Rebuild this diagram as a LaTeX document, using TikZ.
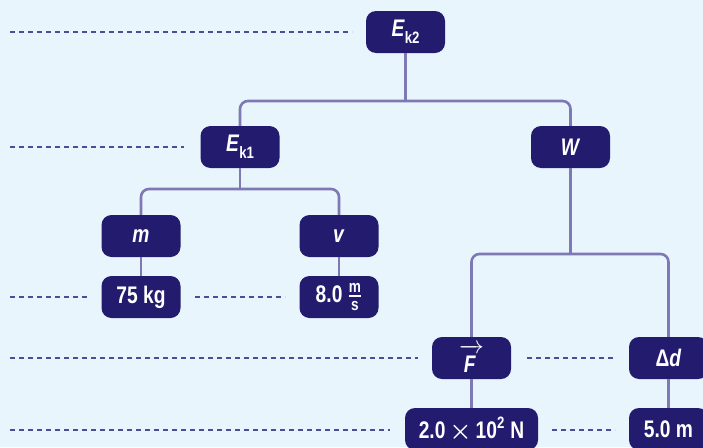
\documentclass[tikz,border=0pt]{standalone}
\usepackage{fontspec}
\usepackage{amsmath}
\setmainfont{Liberation Sans}[FakeStretch=0.8]
\usetikzlibrary{calc}
\definecolor{bg}{HTML}{E8F5FC}
\definecolor{boxc}{HTML}{231C6E}
\definecolor{connc}{HTML}{7E78B4}
\definecolor{dashc}{HTML}{4A4E98}
\newcommand{\fr}[1]{\text{\fontsize{17}{17}\selectfont #1}}
\begin{document}
\begin{tikzpicture}[x=1pt,y=-1pt,
 box/.style={rounded corners=10pt, fill=boxc, text=white, minimum width=79pt, minimum height=42pt, inner sep=0pt, font=\fontsize{24}{26}\selectfont\bfseries},
 link/.style={draw=connc, line width=2.6pt, rounded corners=8pt},
 guide/.style={draw=dashc, line width=1.4pt, dash pattern=on 5pt off 4pt}]
\fill[bg] (0,0) rectangle (703,447);
\useasboundingbox (0,0) rectangle (703,447);

\node[box] (ek2) at (405.5,32) {\textit{E}\raisebox{-0.28em}{\fontsize{16.5}{16}\selectfont k2}};
\node[box] (ek1) at (240,147) {\textit{E}\raisebox{-0.28em}{\fontsize{16.5}{16}\selectfont k1}};
\node[box] (w) at (570.5,147) {\textit{W}};
\node[box] (m) at (141,236) {\textit{m}};
\node[box] (v) at (339,236) {\textit{v}};
\node[box] (kg) at (141,297) {75 kg};
\node[box] (ms) at (339,297) {8.0 \ensuremath{\genfrac{}{}{1.4pt}{}{\fr{m}}{\fr{s}}}};
\node[box] (f) at (471.5,358) {\raisebox{-0.12em}{\ensuremath{\overrightarrow{\raisebox{0pt}[1.15\height]{\kern1pt\textit{F}\kern4pt}}}}};
\node[box] (dd) at (668.5,358) {Δ\textit{d}};
\node[box, minimum width=133pt] (n) at (471.5,429) {2.0\hspace{4pt}\ensuremath{\boldsymbol{\times}}\hspace{4pt}10\raisebox{0.42em}{\fontsize{16.5}{16}\selectfont 2}\hspace{6pt}N};
\node[box] (dm) at (668.5,429) {5.0 m};

\coordinate (j1) at (405.5,101);
\draw[link] (ek1.north) |- (j1) -| (w.north);
\draw[link] (ek2.south) -- (j1);
\coordinate (j2) at (240,189);
\draw[link] (m.north) |- (j2) -| (v.north);
\draw[link] (ek1.south) -- (j2);
\coordinate (j3) at (570.5,254);
\draw[link] (f.north) |- (j3) -| (dd.north);
\draw[link] (w.south) -- (j3);
\draw[link] (m.south) -- (kg.north);
\draw[link] (v.south) -- (ms.north);
\draw[link] (f.south) -- (n.north);
\draw[link] (dd.south) -- (dm.north);

\coordinate (g1a) at (10,32);  \coordinate (g1b) at (352,32);
\coordinate (g2a) at (10,147); \coordinate (g2b) at (184,147);
\coordinate (g3a) at (10,297); \coordinate (g3b) at (88,297);
\coordinate (g4a) at (195,297); \coordinate (g4b) at (285,297);
\coordinate (g5a) at (10,358); \coordinate (g5b) at (418,358);
\coordinate (g6a) at (527,358); \coordinate (g6b) at (615,358);
\coordinate (g7a) at (10,430); \coordinate (g7b) at (390,430);
\coordinate (g8a) at (552,430); \coordinate (g8b) at (615,430);
\foreach \g in {1,...,8} { \draw[guide] (g\g a) -- (g\g b); }
\end{tikzpicture}
\end{document}
